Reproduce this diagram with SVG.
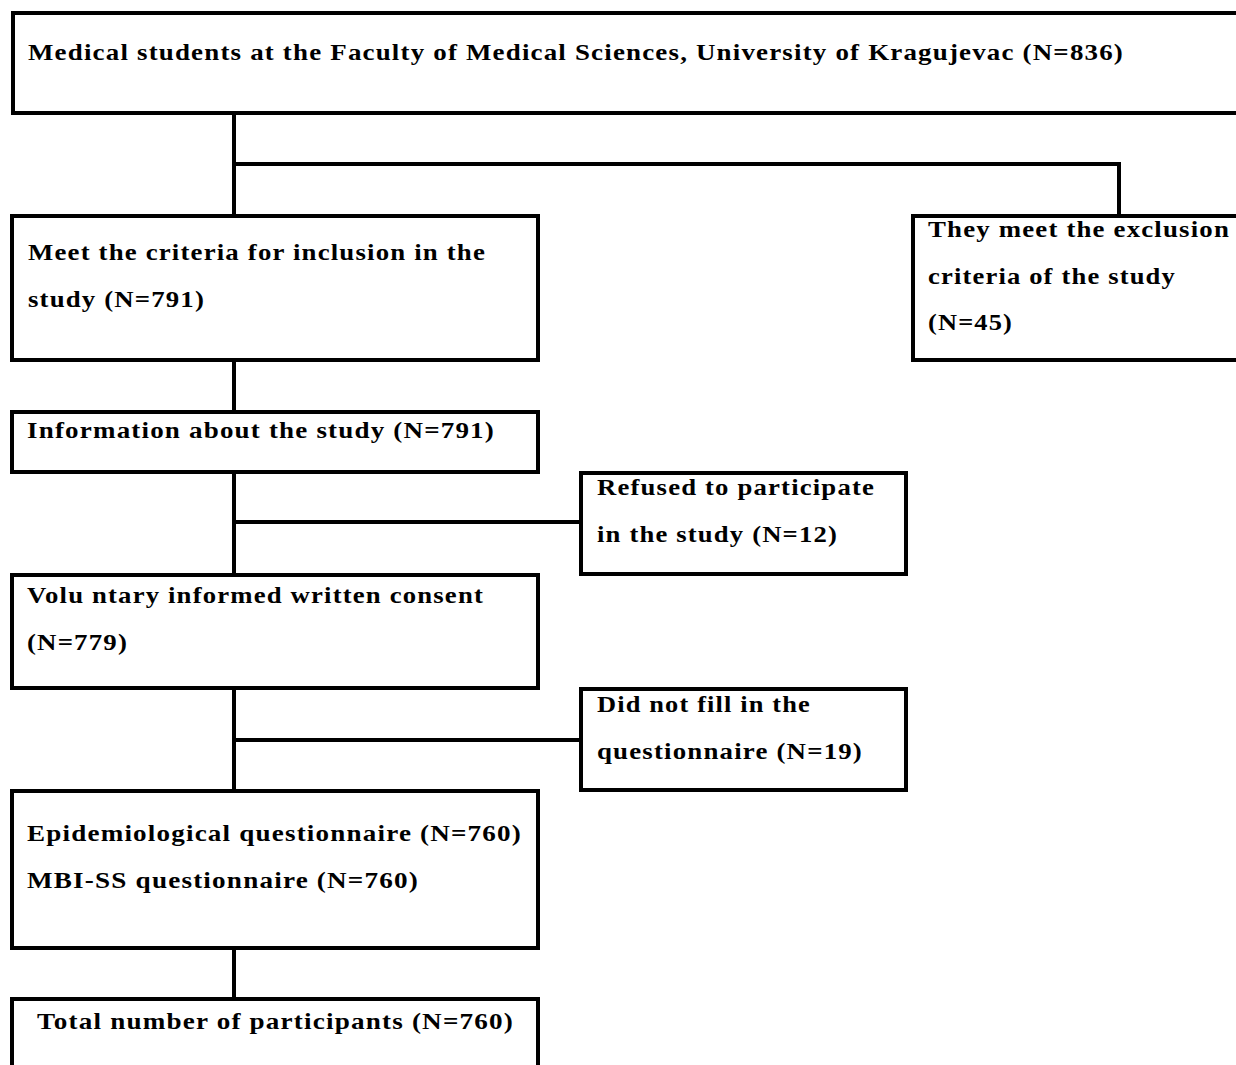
<svg xmlns="http://www.w3.org/2000/svg" width="1236" height="1065" viewBox="0 0 1236 1065">
<style>
.box{fill:#fff;stroke:#000;stroke-width:4}
.ln{stroke:#000;stroke-width:4;fill:none}
text{font-family:"Liberation Serif","Times New Roman",serif;font-weight:bold;font-size:23px;fill:#000;letter-spacing:1px}
</style>
<rect width="1236" height="1065" fill="#fff"/>
<g id="connectors">
<path class="ln" d="M234 114V215M234 164H1119V215"/>
<path class="ln" d="M234 360V411"/>
<path class="ln" d="M234 472V574M234 522H581"/>
<path class="ln" d="M234 688V790M234 740H581"/>
<path class="ln" d="M234 948V998"/>
</g>
<g id="n-students">
<rect class="box" x="13" y="13" width="1240" height="100"/>
<text x="28" y="60" textLength="1096" lengthAdjust="spacingAndGlyphs">Medical students at the Faculty of Medical Sciences, University of Kragujevac (N=836)</text>
</g>
<g id="n-inclusion">
<rect class="box" x="12" y="216" width="526" height="144"/>
<text x="28" y="260" textLength="458" lengthAdjust="spacingAndGlyphs">Meet the criteria for inclusion in the</text>
<text x="28" y="307" textLength="177" lengthAdjust="spacingAndGlyphs">study (N=791)</text>
</g>
<g id="n-exclusion">
<rect class="box" x="913" y="216" width="340" height="144"/>
<text x="928" y="237" textLength="302" lengthAdjust="spacingAndGlyphs">They meet the exclusion</text>
<text x="928" y="284" textLength="248" lengthAdjust="spacingAndGlyphs">criteria of the study</text>
<text x="928" y="330" textLength="85" lengthAdjust="spacingAndGlyphs">(N=45)</text>
</g>
<g id="n-information">
<rect class="box" x="12" y="412" width="526" height="60"/>
<text x="27" y="438" textLength="468" lengthAdjust="spacingAndGlyphs">Information about the study (N=791)</text>
</g>
<g id="n-refused">
<rect class="box" x="581" y="473" width="325" height="101"/>
<text x="597" y="495" textLength="278" lengthAdjust="spacingAndGlyphs">Refused to participate</text>
<text x="597" y="542" textLength="241" lengthAdjust="spacingAndGlyphs">in the study (N=12)</text>
</g>
<g id="n-consent">
<rect class="box" x="12" y="575" width="526" height="113"/>
<text x="27" y="603" textLength="457" lengthAdjust="spacingAndGlyphs">Volu ntary informed written consent</text>
<text x="27" y="650" textLength="101" lengthAdjust="spacingAndGlyphs">(N=779)</text>
</g>
<g id="n-notfilled">
<rect class="box" x="581" y="689" width="325" height="101"/>
<text x="597" y="712" textLength="214" lengthAdjust="spacingAndGlyphs">Did not fill in the</text>
<text x="597" y="759" textLength="266" lengthAdjust="spacingAndGlyphs">questionnaire (N=19)</text>
</g>
<g id="n-questionnaires">
<rect class="box" x="12" y="791" width="526" height="157"/>
<text x="27" y="841" textLength="495" lengthAdjust="spacingAndGlyphs">Epidemiological questionnaire (N=760)</text>
<text x="27" y="888" textLength="392" lengthAdjust="spacingAndGlyphs">MBI-SS questionnaire (N=760)</text>
</g>
<g id="n-total">
<rect class="box" x="12" y="999" width="526" height="90"/>
<text x="37" y="1029" textLength="477" lengthAdjust="spacingAndGlyphs">Total number of participants (N=760)</text>
</g>
</svg>
